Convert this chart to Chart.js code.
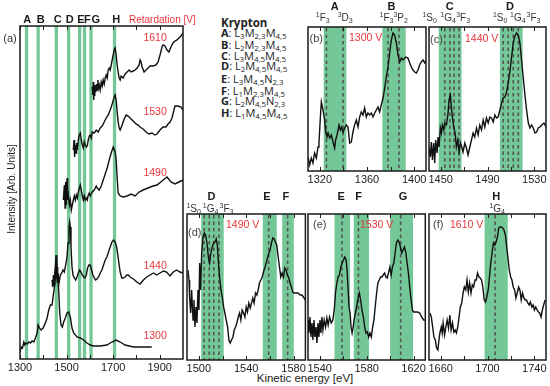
<!DOCTYPE html>
<html><head><meta charset="utf-8">
<script src="https://cdn.jsdelivr.net/npm/chart.js@4.4.1/dist/chart.umd.min.js"></script>
<style>
html,body{margin:0;padding:0;background:#fff;}
#wrap{position:relative;width:550px;height:386px;overflow:hidden;background:#fff;}
canvas{position:absolute;}
.lg{position:absolute;left:221px;font-family:'Open Sans',sans-serif;font-size:11px;line-height:12px;color:#222;white-space:nowrap;}
.lg b{font-weight:700;}
.lg sub{font-size:0.72em;line-height:0;vertical-align:-0.3em;}
#xt{position:absolute;left:245px;width:120px;top:371px;text-align:center;font-family:'Liberation Sans',Arial,sans-serif;font-size:11.5px;line-height:14px;color:#222;}
</style></head><body><div id="wrap">
<div class="lg" style="top:17px;font-size:11.5px"><b>Krypton</b></div>
<div class="lg" style="top:27px"><b>A</b>: L<sub>3</sub>M<sub>2,3</sub>M<sub>4,5</sub></div>
<div class="lg" style="top:39px"><b>B</b>: L<sub>2</sub>M<sub>2,3</sub>M<sub>4,5</sub></div>
<div class="lg" style="top:50px"><b>C</b>: L<sub>3</sub>M<sub>4,5</sub>M<sub>4,5</sub></div>
<div class="lg" style="top:60px"><b>D</b>: L<sub>2</sub>M<sub>4,5</sub>M<sub>4,5</sub></div>
<div class="lg" style="top:73px"><b>E</b>: L<sub>3</sub>M<sub>4,5</sub>N<sub>2,3</sub></div>
<div class="lg" style="top:85px"><b>F</b>: L<sub>1</sub>M<sub>2,3</sub>M<sub>4,5</sub></div>
<div class="lg" style="top:95px"><b>G</b>: L<sub>2</sub>M<sub>4,5</sub>N<sub>2,3</sub></div>
<div class="lg" style="top:107px"><b>H</b>: L<sub>1</sub>M<sub>4,5</sub>M<sub>4,5</sub></div>
<div id="xt">Kinetic energy [eV]</div>
</div>
<script>
// ---------------- DATA ----------------
// Panel (a): overview spectra at different retardation voltages
const retardations = ['1610','1530','1490','1440','1300'];
const eA1300 = [1300,1305,1310.7,1316.4,1320.7,1325,1330.7,1337.8,1344.9,1352.1,1359.2,1366.3,1373.5,1377.8,1383.5,1390.6,1399.2,1409.1,1416.3,1423.4,1430.5,1437.7,1442,1447.7,1451.9,1456.2,1459.1,1461.9,1466.2,1470.5,1476.2,1481.9,1487.6,1494.7,1501.9,1509,1516.1,1523.3,1530.4,1544.7,1558.9,1573.2,1587.5,1601.7,1616,1644.5,1673.1,1694.5,1713,1730.1,1751.5,1787.2,1830,1865.7];
const iA1300 = [7,12,11,17,14,16,15,17,16,18,17,21,26,34,31,29,31,36,41,49,54,54,62,72,82,102,92,82,69,46,34,32,37,41,46,47,42,31,26,22,21,19,16,14,13,13,14,17,19,17,14,12,12,12];
const eA1440 = [1437.7,1440.5,1443.4,1446.2,1449.1,1451.9,1454.8,1457.7,1460.5,1463.4,1467.6,1473.3,1479.1,1484.8,1490.5,1496.2,1501.9,1506.2,1510.4,1513.3,1516.1,1519,1523.3,1527.6,1533.3,1539,1544.7,1550.4,1556.1,1561.8,1567.5,1573.2,1578.9,1584.6,1590.3,1596,1601.7,1607.5,1613.2,1618.9,1624.6,1630.3,1637.4,1644.5,1651.7,1658.8,1666,1673.1,1680.2,1687.4,1694.5,1701.6,1708.8,1715.9,1723,1730.1,1737.3,1744.4,1751.5,1758.7,1765.8,1772.9,1787.2,1801.5,1815.7,1830,1844.3,1858.5,1872.8,1887.1,1901.3,1915.6,1929.9,1944.1,1958.4,1972.7,1986.9,1998.3];
const iA1440 = [79,72,84,74,86,92,104,82,76,86,76,84,86,89,87,94,102,116,132,137,132,112,92,84,81,79,82,86,89,87,84,82,81,84,91,94,94,89,84,81,79,80,82,86,89,94,99,102,107,112,117,119,117,111,99,87,81,81,82,84,84,82,80,77,75,79,82,84,86,84,86,88,87,83,87,89,87,86];
const eA1490 = [1486.2,1490.5,1493.5,1496,1499,1502,1504.6,1507.6,1511.9,1516.1,1520.4,1524.7,1529,1533.3,1537.5,1541.8,1546.1,1550.4,1554.7,1558.9,1563.2,1567.5,1571.8,1576.1,1580.3,1584.6,1588.9,1593.2,1597.5,1601.7,1610.3,1618.9,1627.4,1631.7,1640.3,1648.8,1657.4,1665.9,1674.5,1683.1,1691.6,1700.2,1708.7,1713,1717.3,1721.6,1730.1,1743,1760.1,1777.2,1794.3,1811.5,1828.6,1850,1871.4,1888.5,1909.9,1931.3,1948.4,1965.5,1982.7,2000];
const iA1490 = [159,174,151,177,154,181,159,164,154,159,149,154,159,163,159,164,161,167,171,174,169,163,159,163,159,161,159,164,166,163,167,169,173,171,169,173,179,185,191,199,206,212,207,199,181,166,163,162,163,165,163,167,169,171,173,174,178,182,177,175,177,179];
const eA1530 = [1529,1532,1534.5,1537.5,1540.5,1543.1,1546.1,1550.4,1554.7,1558.9,1563.2,1567.5,1571.8,1576.1,1580.3,1584.6,1588.9,1593.2,1597.5,1601.7,1606,1610.3,1618.9,1627.4,1636,1644.5,1653.1,1661.7,1670.2,1678.8,1687.3,1695.9,1704.5,1708.7,1713,1717.3,1721.6,1725.9,1730.1,1738.7,1747.3,1755.8,1764.4,1772.9,1781.5,1790.1,1798.6,1807.2,1815.7,1828.6,1841.4,1854.3,1867.1,1880,1888.5,1901.3,1914.2,1927,1935.6,1944.1,1952.7,1961.3,1965.5,1978.4,1991.2,2000];
const iA1530 = [209,219,202,214,206,216,209,219,224,226,219,214,211,217,214,212,213,219,223,224,221,227,226,229,227,231,233,237,241,244,249,255,262,264,259,247,237,231,229,234,240,244,243,241,239,237,235,234,232,230,227,225,226,224,225,229,232,232,235,237,241,249,253,253,252,249];
const eA1610 = [1610.3,1612.4,1614.6,1616.7,1618.9,1621,1623.1,1626.1,1628.7,1631.7,1634.7,1637.3,1640.3,1644.5,1648.8,1653.1,1657.4,1661.7,1665.9,1670.2,1674.5,1678.8,1683.1,1687.3,1691.6,1695.9,1700.2,1704.5,1708.7,1713,1717.3,1721.6,1725.9,1730.1,1734.4,1743,1751.5,1760.1,1768.7,1777.2,1785.8,1794.3,1802.9,1811.5,1815.7,1820,1824.3,1832.9,1841.4,1850,1858.5,1871.4,1884.2,1892.8,1901.3,1909.9,1914.2,1922.7,1931.3,1939.8,1948.4,1957,1965.5,1974.1,1982.7,1991.2,2000];
const iA1610 = [272,264,277,259,271,263,274,267,275,269,279,271,274,269,277,273,279,275,281,284,281,289,291,289,294,299,304,309,311,304,294,287,281,279,283,281,285,287,289,287,288,289,291,294,299,297,292,287,289,291,293,293,294,297,304,312,314,313,309,307,312,316,318,319,321,323,326];
const linesA = [1328,1378,1456,1509,1556,1577,1605,1706];
const lettersA = ['A','B','C','D','E','F','G','H'];
const ticksA = [1300,1500,1700,1900];
const minorTicksA = [1400,1600,1800];

// Panel (b): 1300 V
const eB = [1310,1311.4,1312.8,1314.2,1315.6,1317.1,1318.5,1319.3,1320.5,1321.3,1322.7,1324.1,1325,1326.1,1327,1328.4,1329.8,1331.2,1332.6,1333.4,1334.6,1336.3,1337.4,1338.5,1339.7,1341.1,1342.5,1343.9,1345.3,1346.7,1348.1,1349.5,1351,1352.4,1353.8,1355.2,1356.6,1358,1359.4,1360.8,1362.3,1363.7,1365.1,1366.5,1367.9,1369.3,1370.7,1372.1,1373.6,1375,1376.4,1377.8,1379.2,1380.6,1382,1383.4,1384.9,1386.3,1387.7,1389.1,1390.5,1392.8,1394.7,1396.2,1397.6,1399,1400.4,1401.8,1403.2,1404.6,1406,1407.5,1408.9,1410];
const iB = [14,6,13,8,18,13,24,28,54,69,61,51,39,34,38,33,36,29,23,31,36,46,41,44,39,43,46,44,28,29,39,46,51,44,54,59,56,63,54,58,56,58,54,58,61,64,59,66,73,83,94,104,118,131,138,136,128,116,109,113,111,114,113,108,104,101,99,98,101,106,109,111,108,111];
const bandsB = [[1323.3,1342.5],[1373,1392.8]];
const dashesB = [1325.6,1339.7,1377.8,1387.1];
const ticksB = [1320,1360,1400];
const minorTicksB = [1340,1380];

// Panel (c): 1440 V
const eC = [1440,1441.1,1442,1442.9,1444,1444.9,1445.7,1446.9,1447.7,1448.6,1449.7,1450.6,1451.4,1452.6,1453.4,1454.9,1456.3,1457.1,1458.3,1459.1,1460,1461.1,1462.3,1463.4,1464.6,1465.7,1466.9,1468,1469.1,1470.6,1472,1473.4,1474.9,1476.3,1477.7,1479.1,1480.6,1482,1483.4,1484.9,1486.3,1487.7,1489.1,1490.6,1492,1493.4,1494.9,1496.3,1497.7,1499.1,1500.6,1502,1503.4,1504.9,1506.3,1507.7,1509.1,1510.6,1512,1513.4,1514.9,1516.3,1517.7,1519.1,1520.6,1522,1523.4,1524.9,1526.3,1527.7,1529.1,1530.6,1532,1533.4,1534.9,1536.3,1538.3,1540];
const iC = [24,14,29,11,28,8,31,18,34,24,43,38,46,41,48,46,58,71,76,64,54,44,38,24,31,19,28,24,19,28,23,16,24,31,38,34,43,36,46,41,51,44,53,48,54,53,49,56,53,54,61,68,73,74,79,88,99,114,128,135,138,136,128,111,93,76,61,48,43,46,43,38,39,43,44,46,48,44];
const bandsC = [[1448.3,1467.8],[1500.6,1520]];
const dashesC = [1453.5,1457.8,1461.4,1465.7,1503.4,1507.7,1512,1516.3];
const ticksC = [1450,1490,1530];
const minorTicksC = [1470,1510];

// Panel (d): 1490 V
const eD = [1490.8,1491.7,1492.2,1493.1,1493.9,1495.1,1495.9,1496.7,1497.6,1498.4,1499.3,1500.1,1500.7,1501.5,1502.4,1503.5,1504.6,1505.7,1506.9,1508,1509.1,1510.2,1511.3,1512.5,1513.6,1514.7,1515.6,1516.4,1517.5,1518.7,1519.8,1520.9,1522,1523.1,1524.3,1525.4,1526.5,1527.6,1528.8,1529.9,1531,1532.1,1533.3,1534.4,1535.5,1536.6,1537.8,1538.9,1540,1541.1,1542.2,1543.4,1544.5,1545.6,1546.7,1547.9,1549,1550.1,1551.2,1552.4,1553.5,1554.6,1555.7,1556.9,1558,1559.1,1560.2,1561.3,1562.5,1563.6,1564.7,1565.8,1567,1568.1,1569.2,1570.3,1571.5,1572.6,1573.7,1574.8,1576,1577.1,1578.2,1579.3,1580.4,1582.1,1583.8,1585.5,1587.2,1588.3,1590];
const iD = [90,80,63,47,70,40,60,33,53,37,70,50,97,70,107,123,127,125,117,103,97,107,113,117,118,121,115,100,83,70,63,53,47,40,33,20,17,20,23,30,33,37,43,47,40,50,47,43,53,48,57,52,57,62,57,67,65,70,77,80,83,88,92,97,102,107,110,117,122,121,118,115,103,93,83,87,83,92,90,85,82,77,73,68,67,67,67,65,65,63,60];
const bandsD = [[1502,1521],[1554,1565.8],[1570.4,1580.2]];
const dashesD = [1504.5,1508.8,1512.6,1517,1559,1575];
const ticksD = [1500,1540,1580];
const minorTicksD = [1520,1560];

// Panel (e): 1530 V
const eE = [1530,1530.8,1531.7,1532.5,1533.4,1534.2,1535.1,1535.9,1536.8,1537.6,1538.5,1539.3,1540.2,1541,1541.9,1542.7,1543.8,1545,1546.1,1547.2,1548.4,1549.8,1551.2,1552.6,1553.4,1554.6,1555.7,1556.8,1558,1559.1,1560.2,1561.4,1562.5,1563.3,1564.2,1565,1565.9,1566.7,1567.6,1568.4,1569.3,1570.4,1571.5,1572.7,1573.8,1574.9,1576,1577.2,1578.3,1579.4,1580.6,1581.7,1582.8,1584,1585.1,1586.2,1587.3,1588.5,1589.6,1590.7,1591.9,1593,1594.1,1595.3,1596.4,1597.5,1598.6,1599.8,1600.9,1602,1603.2,1604.3,1605.4,1606.6,1607.7,1608.8,1609.9,1611.1,1612.2,1613.3,1614.5,1615.6,1616.7,1617.9,1619,1620.1,1621.8,1623.5,1625.2,1626.9,1628.6,1629.7];
const iE = [40,27,43,23,37,20,40,23,33,17,37,23,40,27,43,30,40,33,42,35,43,37,40,53,67,77,83,85,93,97,100,103,100,90,70,53,47,33,27,32,40,47,53,62,67,60,50,43,33,27,28,23,27,23,33,40,53,67,77,80,83,83,85,87,83,82,87,93,85,93,97,107,117,120,118,113,107,110,113,108,97,87,73,60,50,48,48,48,47,43,40,40];
const bandsE = [[1552.6,1565.8],[1569,1582],[1600,1619.6]];
const dashesE = [1559,1573,1609];
const ticksE = [1540,1580,1620];
const minorTicksE = [1560,1600];

// Panel (f): 1610 V
const eF = [1650.8,1652,1653.1,1654.2,1655.4,1656.5,1657.6,1658.5,1659.3,1660.5,1661.3,1662.1,1663.3,1664.4,1665.5,1666.7,1667.8,1668.9,1670.1,1671.2,1672.3,1673.4,1674.6,1675.7,1676.8,1678,1679.1,1680.2,1681.4,1682.5,1683.6,1684.7,1685.9,1687,1688.1,1689.3,1690.4,1691.5,1692.7,1693.8,1694.9,1696,1697.2,1698.3,1699.4,1700.6,1701.7,1702.8,1704,1705.1,1706.2,1707.3,1708.5,1709.6,1710.7,1711.9,1713,1714.1,1715.3,1716.4,1717.5,1718.6,1719.8,1720.9,1722,1723.2,1724.3,1725.4,1726.6,1727.7,1728.8,1729.9,1731.1,1732.2,1733.3,1734.5,1735.6,1736.7,1737.9,1739,1740.1,1741.2,1742.4,1743.5,1744.6,1745.8,1746.9,1748,1749.2];
const iF = [47,43,33,23,20,12,10,20,27,33,27,37,25,33,40,32,45,30,37,28,30,27,33,43,53,57,67,73,70,80,68,77,67,75,73,80,80,87,83,82,80,73,60,58,63,70,83,97,108,117,115,118,123,132,133,133,132,130,125,113,102,90,83,80,73,70,62,67,73,70,60,67,62,60,60,57,55,58,53,55,50,53,50,48,47,43,50,55,60];
const bandsF = [[1697.5,1717.3]];
const dashesF = [1706.5];
const ticksF = [1660,1700,1740];
const minorTicksF = [1680,1720];

// ---------------- DRAWING ----------------
const FONT = '"Liberation Sans", Arial, sans-serif';
const GREEN = '#74c796';
const RED = '#e8353a';
const AXIS_H = 20;
const wrap = document.getElementById('wrap');

function drawTerm(ctx, x, y, sup, main, sub) {
  const big = '10px ' + FONT, small = '7px ' + FONT;
  ctx.font = small; const ws = ctx.measureText(sup).width, wb = ctx.measureText(sub).width;
  ctx.font = big; const wm = ctx.measureText(main).width;
  let x0 = x - (ws + wm + wb) / 2;
  ctx.textAlign = 'left'; ctx.textBaseline = 'alphabetic'; ctx.fillStyle = '#333';
  const base = y + 3.5;
  ctx.font = small; ctx.fillText(sup, x0, base - 3.5); x0 += ws;
  ctx.font = big; ctx.fillText(main, x0, base); x0 += wm;
  ctx.font = small; ctx.fillText(sub, x0, base + 2);
}

function panelPlugin(cfg) {
  return {
    id: 'panel' + cfg.name,
    beforeDatasetsDraw(chart) {
      const {ctx, chartArea: a, scales: {x}} = chart;
      ctx.save();
      ctx.beginPath(); ctx.rect(a.left, a.top, a.right - a.left, a.bottom - a.top); ctx.clip();
      ctx.fillStyle = GREEN;
      cfg.bands.forEach(([lo, hi]) => {
        const x0 = x.getPixelForValue(lo), x1 = x.getPixelForValue(hi);
        ctx.fillRect(x0, a.top, x1 - x0, a.bottom - a.top);
      });
      ctx.strokeStyle = '#555'; ctx.lineWidth = 1.6; ctx.setLineDash([3.5, 3]);
      cfg.dashes.forEach(e => {
        const px = x.getPixelForValue(e);
        ctx.beginPath(); ctx.moveTo(px, a.top + 1); ctx.lineTo(px, a.bottom); ctx.stroke();
      });
      ctx.restore();
    },
    afterDraw(chart) {
      const {ctx, chartArea: a, scales: {x, y}} = chart;
      ctx.save();
      ctx.setLineDash([]);
      ctx.strokeStyle = '#222'; ctx.lineWidth = 1;
      cfg.ticks.concat(cfg.minor).forEach(v => {
        const px = Math.round(x.getPixelForValue(v)) + 0.5;
        ctx.beginPath();
        ctx.moveTo(px, a.bottom); ctx.lineTo(px, a.bottom - 4);
        ctx.moveTo(px, a.top); ctx.lineTo(px, a.top + 4);
        ctx.stroke();
      });
      ctx.lineWidth = 1.5; ctx.strokeStyle = '#1a1a1a';
      ctx.strokeRect(a.left, a.top, a.right - a.left, a.bottom - a.top);
      (cfg.groups || []).forEach(g => {
        ctx.font = 'bold 11px ' + FONT; ctx.fillStyle = '#1a1a1a';
        ctx.textAlign = 'center'; ctx.textBaseline = 'middle';
        ctx.fillText(g.letter, x.getPixelForValue(g.at), a.top + cfg.letterDy);
        (g.terms || []).forEach(t => drawTerm(ctx, x.getPixelForValue(t[3]), a.top + cfg.termDy, t[0], t[1], t[2]));
      });
      if (cfg.label) {
        ctx.textAlign = 'left'; ctx.textBaseline = 'middle';
        ctx.font = '11px ' + FONT; ctx.fillStyle = '#444';
        ctx.fillText(cfg.label[0], a.left + cfg.label[1], a.top + cfg.label[2]);
      }
      if (cfg.volt) {
        ctx.textAlign = 'left'; ctx.textBaseline = 'middle';
        ctx.font = '10.5px ' + FONT; ctx.fillStyle = RED;
        ctx.fillText(cfg.volt[0], a.left + cfg.volt[1], a.top + cfg.volt[2]);
      }
      if (cfg.extra) cfg.extra(chart, ctx, a, x, y);
      ctx.restore();
    }
  };
}

function makePanel(cfg) {
  const [l, t, r, b] = cfg.frame;
  const [pl, pt, pr, pb] = cfg.pad;
  const W = r - l + pl + pr, H = b - t + pt + AXIS_H + pb;
  const cv = document.createElement('canvas');
  cv.width = W; cv.height = H;
  cv.style.left = (l - pl) + 'px'; cv.style.top = (t - pt) + 'px';
  cv.style.width = W + 'px'; cv.style.height = H + 'px';
  wrap.appendChild(cv);
  new Chart(cv.getContext('2d'), {
    type: 'line',
    data: {
      datasets: cfg.series.map(s => ({
        data: s[0].map((e, i) => ({x: e, y: s[1][i]})),
        borderColor: '#111', borderWidth: 1.4, pointRadius: 0, tension: 0, fill: false
      }))
    },
    options: {
      responsive: false, maintainAspectRatio: false, animation: false, devicePixelRatio: 1,
      layout: {padding: {left: pl, top: pt, right: pr, bottom: pb}},
      plugins: {legend: {display: false}, tooltip: {enabled: false}, title: {display: false}},
      scales: {
        x: {
          type: 'linear', min: cfg.xMin, max: cfg.xMax,
          grid: {display: false, drawTicks: false, tickLength: 0},
          border: {display: false},
          afterBuildTicks: s => { s.ticks = cfg.ticks.map(v => ({value: v})); },
          afterFit: s => { s.height = AXIS_H; },
          ticks: {autoSkip: false, maxRotation: 0, minRotation: 0, padding: 2, color: '#222',
                  font: {family: FONT, size: 11}, callback: v => String(v)}
        },
        y: {type: 'linear', display: false, min: 0, max: cfg.yMax}
      }
    },
    plugins: [panelPlugin(cfg)]
  });
}

// Panel (a)
const seriesA = [[eA1610, iA1610], [eA1530, iA1530], [eA1490, iA1490], [eA1440, iA1440], [eA1300, iA1300]];
makePanel({
  name: 'a', frame: [20, 26, 183, 359], pad: [20, 26, 17, 7],
  xMin: 1300, xMax: 2000, yMax: 333, ticks: ticksA, minor: minorTicksA,
  series: seriesA,
  bands: linesA.map(c => [c - 7, c + 7]), dashes: [],
  extra(chart, ctx, a, x, y) {
    const letterPos = [1331, 1389, 1462, 1514, 1562, 1589, 1625, 1713];
    ctx.font = 'bold 11px ' + FONT; ctx.fillStyle = '#1a1a1a';
    ctx.textAlign = 'center'; ctx.textBaseline = 'middle';
    lettersA.forEach((L, i) => ctx.fillText(L, x.getPixelForValue(letterPos[i]), a.top - 6));
    ctx.font = '10px ' + FONT; ctx.fillStyle = RED; ctx.textAlign = 'left';
    ctx.fillText('Retardation [V]', 129, a.top - 6);
    ctx.font = '11px ' + FONT; ctx.fillStyle = '#333'; ctx.textAlign = 'center';
    ctx.fillText('(a)', 10, 39);
    ctx.save(); ctx.translate(12, 189); ctx.rotate(-Math.PI / 2);
    ctx.font = '10px ' + FONT; ctx.fillStyle = '#222';
    ctx.fillText('Intensity [Arb. Units]', 0, 0); ctx.restore();
    const labelY = [321, 247, 186, 93, 23];
    ctx.font = '10.5px ' + FONT; ctx.fillStyle = RED; ctx.textAlign = 'center';
    retardations.forEach((r, i) => ctx.fillText(r, x.getPixelForValue(1880), y.getPixelForValue(labelY[i])));
  }
});

// Panel (b)
makePanel({
  name: 'b', frame: [308, 27, 426, 171], pad: [10, 27, 4, 3],
  xMin: 1310, xMax: 1410, yMax: 144, ticks: ticksB, minor: minorTicksB,
  series: [[eB, iB]], bands: bandsB, dashes: dashesB,
  letterDy: -20, termDy: -10,
  groups: [
    {letter: 'A', at: 1332.6, terms: [['1','F','3',1322.5], ['3','D','3',1341.5]]},
    {letter: 'B', at: 1380.7, terms: [['1','F','3',1376.5], ['3','P','2',1388.5]]}
  ],
  label: ['(b)', 1.5, 11.5], volt: ['1300 V', 41, 11.5]
});

// Panel (c)
makePanel({
  name: 'c', frame: [429, 27, 546, 171], pad: [12, 27, 4, 3],
  xMin: 1440, xMax: 1540, yMax: 144, ticks: ticksC, minor: minorTicksC,
  series: [[eC, iC]], bands: bandsC, dashes: dashesC,
  letterDy: -20, termDy: -10,
  groups: [
    {letter: 'C', at: 1457.7, terms: [['1','S','0',1440.6], ['1','G','4',1456.3], ['3','F','3',1469.2]]},
    {letter: 'D', at: 1509.2, terms: [['1','S','0',1500.8], ['1','G','4',1515.9], ['3','F','3',1529.3]]}
  ],
  label: ['(c)', 1, 12.5], volt: ['1440 V', 36, 12.5]
});

// Panel (d)
makePanel({
  name: 'd', frame: [187, 214, 306, 360], pad: [4, 24, 2, 4],
  xMin: 1490, xMax: 1590, yMax: 146, ticks: ticksD, minor: minorTicksD,
  series: [[eD, iD]], bands: bandsD, dashes: dashesD,
  letterDy: -17.5, termDy: -6,
  groups: [
    {letter: 'D', at: 1510.6, terms: [['1','S','0',1495.6], ['1','G','4',1509.9], ['3','F','3',1523.4]]},
    {letter: 'E', at: 1557.4}, {letter: 'F', at: 1573.4}
  ],
  label: ['(d)', 1, 19], volt: ['1490 V', 39, 11]
});

// Panel (e)
makePanel({
  name: 'e', frame: [308, 214, 426, 360], pad: [4, 24, 2, 4],
  xMin: 1530, xMax: 1630, yMax: 146, ticks: ticksE, minor: minorTicksE,
  series: [[eE, iE]], bands: bandsE, dashes: dashesE,
  letterDy: -17.5, termDy: -6,
  groups: [{letter: 'E', at: 1558.3}, {letter: 'F', at: 1573.2}, {letter: 'G', at: 1611.1}],
  label: ['(e)', 5, 11], volt: ['1530 V', 52, 11]
});

// Panel (f)
makePanel({
  name: 'f', frame: [429, 214, 546, 360], pad: [4, 24, 4, 4],
  xMin: 1650, xMax: 1750, yMax: 146, ticks: ticksF, minor: minorTicksF,
  series: [[eF, iF]], bands: bandsF, dashes: dashesF,
  letterDy: -17.5, termDy: -6,
  groups: [{letter: 'H', at: 1707.4, terms: [['1','G','4',1708.2]]}],
  label: ['(f)', 4, 11], volt: ['1610 V', 21, 11]
});
</script>
</body></html>
